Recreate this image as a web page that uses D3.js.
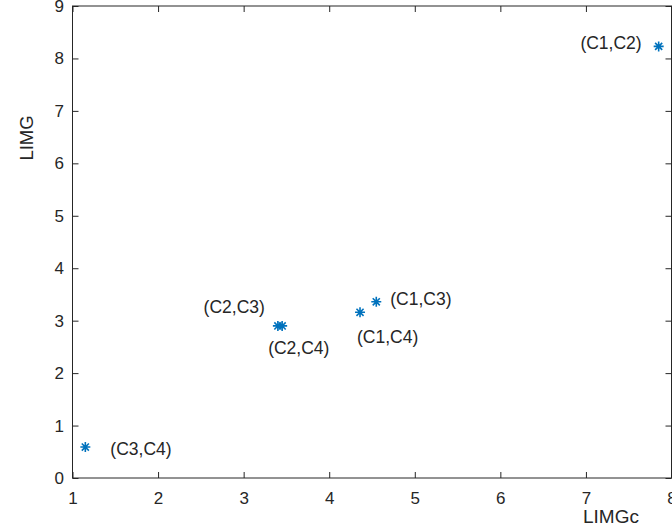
<!DOCTYPE html>
<html>
<head>
<meta charset="utf-8">
<script src="https://cdn.jsdelivr.net/npm/d3@7"></script>
<style>
  html, body { margin: 0; padding: 0; background: #fff; }
  svg { display: block; }
  text { font-family: "Liberation Sans", Arial, Helvetica, sans-serif; fill: #262626; }
</style>
</head>
<body>
<script>
// ---- data ----
const pairLabels = ["(C1,C2)", "(C3,C4)", "(C2,C3)", "(C2,C4)", "(C1,C4)", "(C1,C3)"];
const limgcValues = [7.85, 1.15, 3.40, 3.45, 4.36, 4.55];
const limgValues  = [8.23, 0.59, 2.90, 2.90, 3.16, 3.36];
const xTicks = [1, 2, 3, 4, 5, 6, 7, 8];
const yTicks = [0, 1, 2, 3, 4, 5, 6, 7, 8, 9];
const xAxisTitle = "LIMGc";
const yAxisTitle = "LIMG";

// label placement (pixel offsets from the point, anchor)
const labelPlacement = [
  { dx: -17, dy: 3,  anchor: "end" },
  { dx: 25,  dy: 8,  anchor: "start" },
  { dx: -13, dy: -13, anchor: "end" },
  { dx: -14, dy: 28, anchor: "start" },
  { dx: -3,  dy: 31, anchor: "start" },
  { dx: 14,  dy: 3,  anchor: "start" }
];

const W = 672, H = 530;
const margin = { left: 72.5, right: 0.5, top: 6, bottom: 52 };
const svg = d3.select("body").append("svg").attr("width", W).attr("height", H);

const x = d3.scaleLinear().domain([1, 8]).range([margin.left, W - margin.right]);
const y = d3.scaleLinear().domain([0, 9]).range([H - margin.bottom, margin.top]);

const axisColor = "#262626";
const tickLen = 6;

// box
svg.append("rect")
  .attr("x", x(1)).attr("y", y(9))
  .attr("width", x(8) - x(1)).attr("height", y(0) - y(9))
  .attr("fill", "none").attr("stroke", axisColor).attr("stroke-width", 1);

// bottom axis
const xb = svg.append("g").attr("transform", `translate(0,${y(0)})`)
  .call(d3.axisBottom(x).tickValues(xTicks).tickFormat(d3.format("d")).tickSizeInner(-tickLen).tickSizeOuter(0).tickPadding(14));
// top axis (ticks only)
const xt = svg.append("g").attr("transform", `translate(0,${y(9)})`)
  .call(d3.axisTop(x).tickValues(xTicks).tickFormat("").tickSizeInner(-tickLen).tickSizeOuter(0));
// left axis
const yl = svg.append("g").attr("transform", `translate(${x(1)},0)`)
  .call(d3.axisLeft(y).tickValues(yTicks).tickFormat(d3.format("d")).tickSizeInner(-tickLen).tickSizeOuter(0).tickPadding(8.5));
// right axis (ticks only)
const yr = svg.append("g").attr("transform", `translate(${x(8)},0)`)
  .call(d3.axisRight(y).tickValues(yTicks).tickFormat("").tickSizeInner(-tickLen).tickSizeOuter(0));

[xb, xt, yl, yr].forEach(g => {
  g.select(".domain").remove();
  g.selectAll(".tick line").attr("stroke", axisColor).attr("stroke-width", 1);
  g.selectAll(".tick text").attr("fill", axisColor)
    .style("font-family", '"Liberation Sans", Arial, sans-serif').style("font-size", "17px");
});

// axis titles
svg.append("text")
  .attr("x", 611).attr("y", 523)
  .attr("text-anchor", "middle")
  .style("font-size", "19px")
  .text(xAxisTitle);

svg.append("text")
  .attr("transform", `translate(33,${138}) rotate(-90)`)
  .attr("text-anchor", "middle")
  .style("font-size", "18.5px")
  .text(yAxisTitle);

// data
const data = pairLabels.map((lab, i) => ({ lab, xv: limgcValues[i], yv: limgValues[i], p: labelPlacement[i] }));

// asterisk markers
const r = 5;
const star = `M${-r},0L${r},0M0,${-r}L0,${r}M${-r*0.71},${-r*0.71}L${r*0.71},${r*0.71}M${-r*0.71},${r*0.71}L${r*0.71},${-r*0.71}`;
svg.append("g").selectAll("path").data(data).join("path")
  .attr("transform", d => `translate(${x(d.xv)},${y(d.yv)})`)
  .attr("d", star)
  .attr("stroke", "#0072BD").attr("stroke-width", 1.6).attr("fill", "none");

// labels
svg.append("g").selectAll("text").data(data).join("text")
  .attr("x", d => x(d.xv) + d.p.dx)
  .attr("y", d => y(d.yv) + d.p.dy)
  .attr("text-anchor", d => d.p.anchor)
  .style("font-size", "17.5px")
  .attr("fill", "#000")
  .text(d => d.lab);
</script>
</body>
</html>
